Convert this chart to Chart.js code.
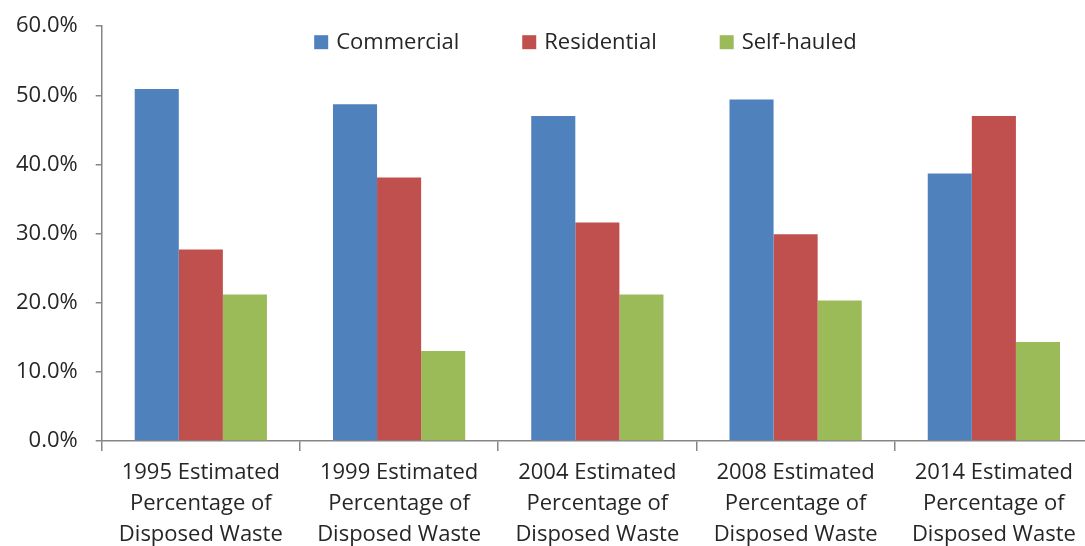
<!DOCTYPE html>
<html>
<head>
<meta charset="utf-8">
<script src="https://cdn.jsdelivr.net/npm/chart.js@4/dist/chart.umd.min.js"></script>
<style>
html,body{margin:0;padding:0;background:#fff;overflow:hidden;}
#wrap{position:relative;width:1093px;height:561px;margin-top:-5px;}
</style>
</head>
<body>
<div id="wrap"><canvas id="c"></canvas></div>
<script>
const categories = [
  ['1995 Estimated','Percentage of','Disposed Waste'],
  ['1999 Estimated','Percentage of','Disposed Waste'],
  ['2004 Estimated','Percentage of','Disposed Waste'],
  ['2008 Estimated','Percentage of','Disposed Waste'],
  ['2014 Estimated','Percentage of','Disposed Waste']
];
const seriesNames = ['Commercial','Residential','Self-hauled'];
const commercial = [50.9, 48.7, 47.0, 49.4, 38.7];
const residential = [27.7, 38.1, 31.6, 29.9, 47.0];
const selfHauled = [21.2, 13.0, 21.2, 20.3, 14.3];
const colors = ['#4F81BD','#C0504D','#9BBB59'];

const FONT = '"Open Sans", "Liberation Sans", sans-serif';
Chart.defaults.font.family = FONT;
Chart.defaults.color = '#262626';

const legendPlugin = {
  id: 'inlineLegend',
  afterDraw(chart) {
    const ctx = chart.ctx;
    const ca = chart.chartArea;
    ctx.save();
    ctx.font = '22px ' + FONT;
    ctx.textBaseline = 'middle';
    const box = 14, gap = 8, itemGap = 63;
    const items = chart.data.datasets.map(d => ({ label: d.label, color: d.backgroundColor, w: ctx.measureText(d.label).width }));
    const total = items.reduce((s, it) => s + box + gap + it.w, 0) + itemGap * (items.length - 1);
    const cx = ca.left + ca.width * 0.488;
    let x = cx - total / 2;
    const y = ca.top + 16;
    items.forEach(it => {
      ctx.fillStyle = it.color;
      ctx.fillRect(x, y - box / 2, box, box);
      x += box + gap;
      ctx.fillStyle = '#262626';
      ctx.fillText(it.label, x, y + 1);
      x += it.w + itemGap;
    });
    ctx.restore();
  }
};

new Chart(document.getElementById('c'), {
  type: 'bar',
  data: {
    labels: categories,
    datasets: [commercial, residential, selfHauled].map((d, i) => ({
      label: seriesNames[i],
      data: d,
      backgroundColor: colors[i],
      borderWidth: 0,
      categoryPercentage: 0.667,
      barPercentage: 1.0
    }))
  },
  plugins: [legendPlugin],
  options: {
    responsive: true,
    maintainAspectRatio: false,
    animation: false,
    layout: { padding: { top: 16, left: -2, right: 0, bottom: 0 } },
    plugins: {
      legend: { display: false },
      tooltip: { enabled: false }
    },
    scales: {
      x: {
        grid: { display: true, drawOnChartArea: false, offset: true, color: '#868686', tickLength: 10, lineWidth: 1.5 },
        border: { display: true, color: '#868686', width: 1.5 },
        ticks: { font: { size: 22, lineHeight: 1.41 }, color: '#262626', maxRotation: 0, padding: 6 }
      },
      y: {
        min: 0, max: 60,
        grid: { display: true, drawOnChartArea: false, color: '#868686', tickLength: 6, lineWidth: 1.5 },
        border: { display: true, color: '#868686', width: 1.5 },
        ticks: { stepSize: 10, font: { size: 22 }, color: '#262626', padding: 18,
          callback: v => v.toFixed(1) + '%' }
      }
    }
  }
});
</script>
</body>
</html>
